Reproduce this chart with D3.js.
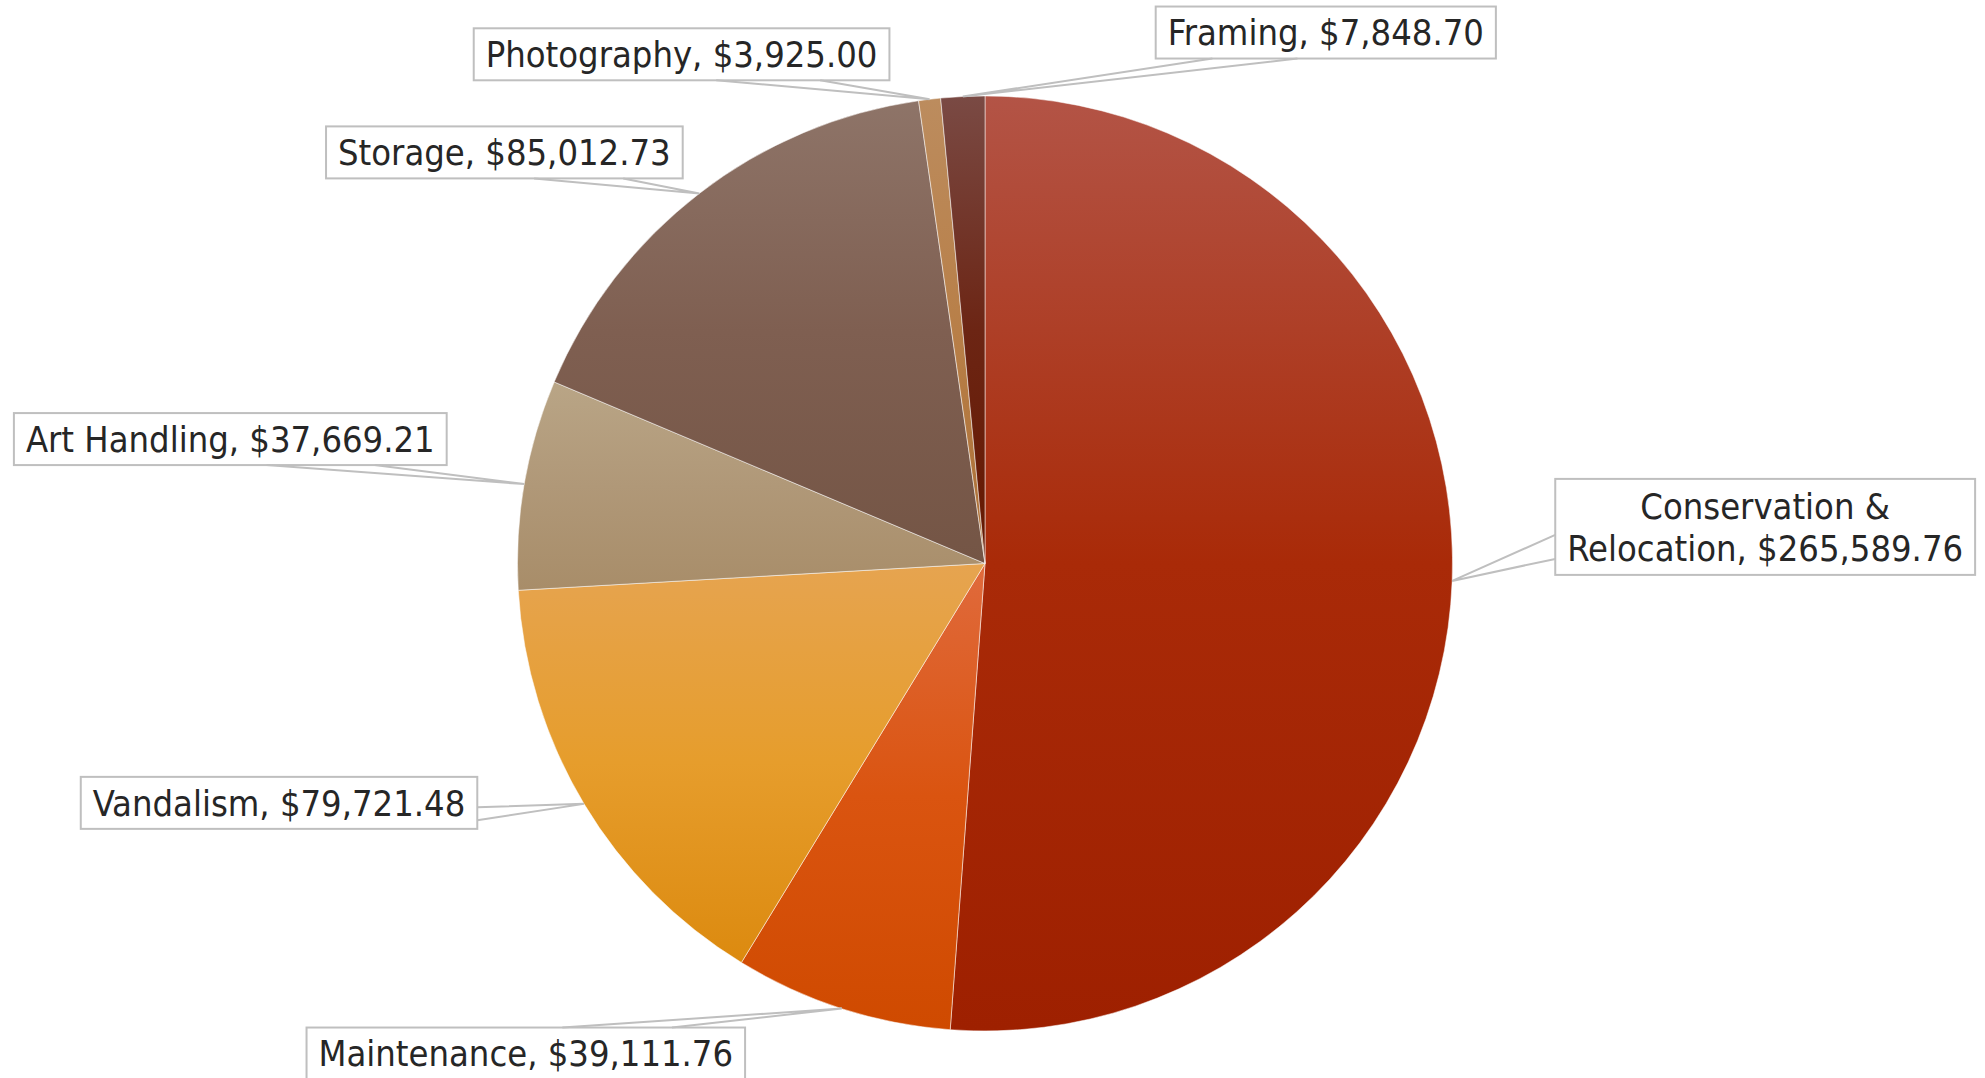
<!DOCTYPE html>
<html>
<head>
<meta charset="utf-8">
<script src="https://cdn.jsdelivr.net/npm/d3@7"></script>
<style>
    body {margin: 0; background: #fff;}
    text {font-family: "DejaVu Sans Condensed", "DejaVu Sans", sans-serif; font-stretch: condensed;}
</style>
</head>
<body>
<div id="chart"></div>
<script>

/***DATA***/
const categories = ["Conservation & Relocation", "Maintenance", "Vandalism", "Art Handling", "Storage", "Photography", "Framing"];
const costs = [265589.76, 39111.76, 79721.48, 37669.21, 85012.73, 3925.00, 7848.70];

// gradient stops per slice : top, middle, bottom
const topColors = ["#b35446", "#e06a3c", "#e6a450", "#b9a586", "#8e7468", "#bc8c5e", "#7a4a44"];
const midColors = ["#a92a08", "#da5410", "#e69d2c", "#b09878", "#7f5f51", "#b87f48", "#6c2514"];
const botColors = ["#9e2000", "#cf4a00", "#dc8a0f", "#a88d69", "#745545", "#ac6f35", "#651800"];

// label box centre, offset from the slice anchor on the arc, and the side the callout leaves from
const labelOffsets = [[313, -54], [-316, 45], [-305, -1], [-294, -45], [-195, -41], [-248, -45], [363, -64]];
const labelSides = ["left", "top", "right", "bottom", "bottom", "bottom", "bottom"];

/***GRAPH***/
const width = 1985;
const height = 1078;
const cx = 985, cy = 563.5, radius = 467.5;
const fontSize = 36, lineHeight = 42, padX = 12, maxLine = 430;
const money = d3.format("$,.2f");

const svg = d3.select("#chart")
    .append("svg")
    .attr("width", width)
    .attr("height", height);

const defs = svg.append("defs");
categories.forEach(function (c, i) {
    const g = defs.append("linearGradient")
        .attr("id", "grad" + i)
        .attr("x1", 0).attr("y1", 0).attr("x2", 0).attr("y2", 1);
    g.append("stop").attr("offset", 0).attr("stop-color", topColors[i]);
    g.append("stop").attr("offset", 0.5).attr("stop-color", midColors[i]);
    g.append("stop").attr("offset", 1).attr("stop-color", botColors[i]);
});

const pie = d3.pie().sort(null).value(d => d);
const arcs = pie(costs);
const arc = d3.arc().innerRadius(0).outerRadius(radius);

const pieG = svg.append("g").attr("transform", "translate(" + [cx, cy] + ")");
pieG.selectAll("path")
    .data(arcs)
    .enter().append("path")
    .attr("d", arc)
    .attr("fill", (d, i) => "url(#grad" + i + ")")
    .attr("stroke", "#fff")
    .attr("stroke-opacity", 0.5)
    .attr("stroke-width", 1);

/***LABELS***/
const labelG = svg.append("g");

// split a label into lines no longer than maxLine
function wrapWords(str) {
    const probe = labelG.append("text").attr("font-size", fontSize);
    const words = str.split(" ");
    let lines = [], line = "";
    words.forEach(function (w) {
        const test = line ? line + " " + w : w;
        probe.text(test);
        if (probe.node().getComputedTextLength() > maxLine && line) {
            lines.push(line);
            line = w;
        } else {
            line = test;
        }
    });
    lines.push(line);
    probe.remove();
    return lines;
}

arcs.forEach(function (d, i) {
    const a = (d.startAngle + d.endAngle) / 2;
    const ax = cx + radius * Math.sin(a);
    const ay = cy - radius * Math.cos(a);
    const bx = ax + labelOffsets[i][0];
    const by = ay + labelOffsets[i][1];

    const lines = wrapWords(categories[i] + ", " + money(costs[i]));
    const g = labelG.append("g");
    const txt = g.append("text")
        .attr("font-size", fontSize)
        .attr("fill", "#262626")
        .attr("text-anchor", "middle");
    lines.forEach(function (l, k) {
        txt.append("tspan")
            .attr("x", bx)
            .attr("y", by + (k - (lines.length - 1) / 2) * lineHeight)
            .attr("dy", "0.36em")
            .text(l);
    });
    const tw = d3.max(txt.selectAll("tspan").nodes(), n => n.getComputedTextLength());
    const bw = tw + 2 * padX;
    const bh = lines.length * lineHeight + 10 + (lines.length > 1 ? 2 : 0);
    const x0 = bx - bw / 2, y0 = by - bh / 2;

    g.insert("rect", "text")
        .attr("x", x0).attr("y", y0)
        .attr("width", bw).attr("height", bh)
        .attr("fill", "#fff")
        .attr("stroke", "#bfbfbf")
        .attr("stroke-width", 2);

    // callout base points on the box edge
    const side = labelSides[i];
    let p1, p2;
    if (side === "top" || side === "bottom") {
        const ey = side === "top" ? y0 : y0 + bh;
        const f = ax > bx ? [7 / 12, 10 / 12] : [2 / 12, 5 / 12];
        p1 = [x0 + f[0] * bw, ey];
        p2 = [x0 + f[1] * bw, ey];
    } else {
        const ex = side === "left" ? x0 : x0 + bw;
        const f = ay > by ? [7 / 12, 10 / 12] : [2 / 12, 5 / 12];
        p1 = [ex, y0 + f[0] * bh];
        p2 = [ex, y0 + f[1] * bh];
    }
    g.append("path")
        .attr("d", d3.line()([p1, [ax, ay], p2]))
        .attr("fill", "none")
        .attr("stroke", "#bfbfbf")
        .attr("stroke-width", 2);
});

</script>
</body>
</html>
